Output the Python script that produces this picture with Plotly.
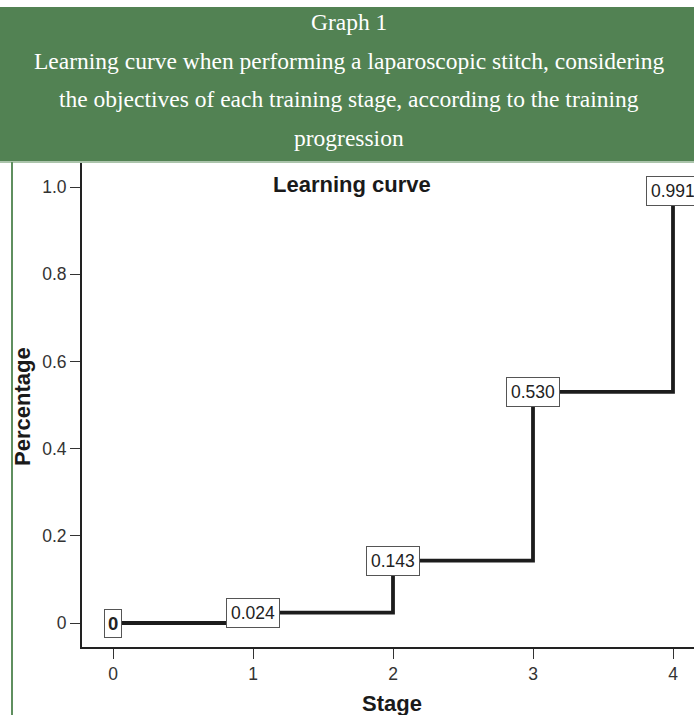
import plotly.graph_objects as go

# Data
stages = [0, 1, 2, 3, 4]
percentages = [0, 0.024, 0.143, 0.530, 0.991]
point_labels = ["0", "0.024", "0.143", "0.530", "0.991"]
y_tick_vals = [0, 0.2, 0.4, 0.6, 0.8, 1.0]
y_tick_text = ["0", "0.2", "0.4", "0.6", "0.8", "1.0"]
x_tick_vals = [0, 1, 2, 3, 4]
x_tick_text = ["0", "1", "2", "3", "4"]
header_lines = [
    "Graph 1",
    "Learning curve when performing a laparoscopic stitch, considering",
    "the objectives of each training stage, according to the training",
    "progression",
]

W, H = 694, 715
ML, MR, MT, MB = 82, 0, 163, 68
PW, PH = W - ML - MR, H - MT - MB


def px(x):
    return (x - ML) / PW


def py(y):
    return (H - MB - y) / PH


GREEN = "#528253"
SANS = "Liberation Sans, Arial, sans-serif"
SERIF = "Liberation Serif, Times New Roman, serif"

fig = go.Figure()
fig.add_trace(go.Scatter(
    x=stages, y=percentages, mode="lines", line_shape="hv",
    line=dict(color="#1c1c1c", width=3.8), hoverinfo="skip", showlegend=False,
))

annotations = []
for i, (sx, sy, lab) in enumerate(zip(stages, percentages, point_labels)):
    annotations.append(dict(
        x=sx, y=sy, xref="x", yref="y", text=lab if i else "<b>" + lab + "</b>",
        showarrow=False, font=dict(family=SANS, size=18.5 if i == 0 else 17.5, color="#222"),
        bgcolor="white", bordercolor="#555", borderwidth=1, borderpad=4 if i else 3,
        xanchor="center", yanchor="middle",
    ))

header_y = [22, 61, 99, 138]
for t, yy in zip(header_lines, header_y):
    annotations.append(dict(
        x=px(349), y=py(yy), xref="paper", yref="paper", text=t, showarrow=False,
        font=dict(family=SERIF, size=23.5, color="white"), xanchor="center", yanchor="middle",
    ))

annotations += [
    dict(x=px(352), y=py(185), xref="paper", yref="paper", text="<b>Learning curve</b>",
         showarrow=False, font=dict(family=SANS, size=22, color="#1a1a1a"),
         xanchor="center", yanchor="middle"),
    dict(x=px(22), y=py(407), xref="paper", yref="paper", text="<b>Percentage</b>",
         showarrow=False, textangle=-90, font=dict(family=SANS, size=22, color="#1a1a1a"),
         xanchor="center", yanchor="middle"),
    dict(x=px(392), y=py(703), xref="paper", yref="paper", text="<b>Stage</b>",
         showarrow=False, font=dict(family=SANS, size=22, color="#1a1a1a"),
         xanchor="center", yanchor="middle"),
]

shapes = [
    dict(type="rect", xref="paper", yref="paper", x0=px(0), x1=px(W), y0=py(161), y1=py(7),
         fillcolor=GREEN, line=dict(width=0), layer="below"),
    dict(type="line", xref="paper", yref="paper", x0=px(0), x1=px(W), y0=py(162), y1=py(162),
         line=dict(color="#8fb08f", width=1.5)),
    dict(type="line", xref="paper", yref="paper", x0=px(12), x1=px(12), y0=py(162), y1=py(H),
         line=dict(color="#5f8f5f", width=2)),
]

fig.update_layout(
    width=W, height=H, margin=dict(l=ML, r=MR, t=MT, b=MB),
    paper_bgcolor="white", plot_bgcolor="white",
    annotations=annotations, shapes=shapes, showlegend=False,
    xaxis=dict(range=[-31 / 140, (W - 113) / 140], tickvals=x_tick_vals, ticktext=x_tick_text,
               showgrid=False, zeroline=False, showline=True, linecolor="#222", linewidth=2,
               ticks="outside", ticklen=10, tickwidth=1.3, tickcolor="#333",
               tickfont=dict(family=SANS, size=17.5, color="#333"), ticklabelstandoff=0,
               fixedrange=True),
    yaxis=dict(range=[-24 / 436, 460 / 436], tickvals=y_tick_vals, ticktext=y_tick_text,
               showgrid=False, zeroline=False, showline=True, linecolor="#222", linewidth=2,
               ticks="outside", ticklen=10, tickwidth=1.3, tickcolor="#333",
               tickfont=dict(family=SANS, size=17.5, color="#333"), fixedrange=True),
)

fig.write_html(
    "out.html",
    config={"displayModeBar": False},
    post_script="document.body.style.margin='0';document.body.style.overflow='hidden';",
)
